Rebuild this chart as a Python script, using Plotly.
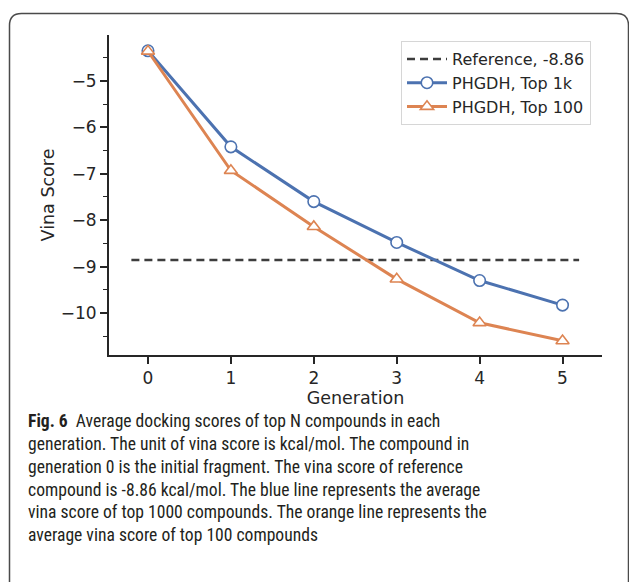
import plotly.graph_objects as go

# ---- data ----
generations = [0, 1, 2, 3, 4, 5]
top1k = [-4.35, -6.42, -7.60, -8.48, -9.30, -9.83]
top100 = [-4.36, -6.93, -8.14, -9.27, -10.21, -10.60]
ref_x = [-0.2, 5.2]
ref_value = -8.86
ref_label = "Reference, -8.86"
name_1k = "PHGDH, Top 1k"
name_100 = "PHGDH, Top 100"
x_ticks = [0, 1, 2, 3, 4, 5]
y_ticks = [-5, -6, -7, -8, -9, -10]

caption_lines = [
    "<b>Fig. 6</b>  Average docking scores of top N compounds in each",
    "generation. The unit of vina score is kcal/mol. The compound in",
    "generation 0 is the initial fragment. The vina score of reference",
    "compound is -8.86 kcal/mol. The blue line represents the average",
    "vina score of top 1000 compounds. The orange line represents the",
    "average vina score of top 100 compounds",
]

W, H = 629, 582
ML, MR, MT, MB = 109, 27, 35, 227
PW, PH = W - ML - MR, H - MT - MB

def px_x(p):
    return (p - ML) / PW

def px_y(p):
    return (H - MB - p) / PH

BLUE = "#4c72b0"
ORANGE = "#dd8452"
INK = "#262626"

fig = go.Figure()
fig.add_trace(go.Scatter(
    x=ref_x, y=[ref_value] * len(ref_x), mode="lines", name=ref_label,
    line=dict(color="#3d3d3d", width=2.5, dash="8px,5px"),
    legendgroup="a",
))
fig.add_trace(go.Scatter(
    x=generations, y=top1k, mode="lines+markers", name=name_1k,
    line=dict(color=BLUE, width=3),
    marker=dict(symbol="circle", size=11.5, color="white", line=dict(color=BLUE, width=1.6)),
    legendgroup="b",
))
fig.add_trace(go.Scatter(
    x=generations, y=top100, mode="lines+markers", name=name_100,
    line=dict(color=ORANGE, width=3),
    marker=dict(symbol="triangle-up", size=11.5, color="white", line=dict(color=ORANGE, width=1.6)),
    legendgroup="c",
))

annotations = []
caption_y = [422, 445, 468, 490.5, 513, 535.5]
for txt, yy in zip(caption_lines, caption_y):
    annotations.append(dict(
        text=txt, xref="paper", yref="paper", x=px_x(26), y=px_y(yy - 1),
        xanchor="left", yanchor="middle", showarrow=False,
        font=dict(family="Liberation Sans Narrow, Roboto Condensed, Roboto", size=17.6, color="#231f20"),
    ))

# rounded frame
x0, x1, y0, y1, r = px_x(9.5), px_x(628.5), px_y(13.5), px_y(600), 12
rx, ry = r / PW, r / PH
frame_path = (
    f"M {x0},{y1} L {x0},{y0 - ry} Q {x0},{y0} {x0 + rx},{y0} "
    f"L {x1 - rx},{y0} Q {x1},{y0} {x1},{y0 - ry} L {x1},{y1}"
)

fig.update_layout(
    width=W, height=H,
    margin=dict(l=ML, r=MR, t=MT, b=MB, pad=0),
    paper_bgcolor="white", plot_bgcolor="white",
    font=dict(family="DejaVu Sans", size=17, color=INK),
    showlegend=True,
    legend=dict(
        x=px_x(401), y=px_y(41), xanchor="left", yanchor="top",
        bgcolor="white", bordercolor="#d6d6d6", borderwidth=1,
        font=dict(size=16, color=INK), tracegroupgap=0,
        traceorder="grouped", itemwidth=40,
    ),
    xaxis=dict(
        range=[-0.47, 5.476], tickmode="array", tickvals=x_ticks,
        showgrid=False, zeroline=False, showline=True, linecolor=INK, linewidth=1.8,
        ticks="outside", ticklen=7, tickwidth=1.6, tickcolor=INK,
        title=dict(text="Generation", font=dict(size=17.5), standoff=2),
    ),
    yaxis=dict(
        range=[-10.905, -4.01], tickmode="array", tickvals=y_ticks,
        showgrid=False, zeroline=False, showline=True, linecolor=INK, linewidth=1.8,
        ticks="outside", ticklen=7, tickwidth=1.6, tickcolor=INK,
        minor=dict(dtick=0.5, tick0=-4.5, ticks="outside", ticklen=4, tickwidth=1.4, tickcolor=INK),
        title=dict(text="Vina Score", font=dict(size=17.5), standoff=2),
    ),
    annotations=annotations,
    shapes=[dict(type="path", path=frame_path, xref="paper", yref="paper",
                 line=dict(color="#4a4a4a", width=1.5), layer="above")],
)

fig.write_html("out.html")
